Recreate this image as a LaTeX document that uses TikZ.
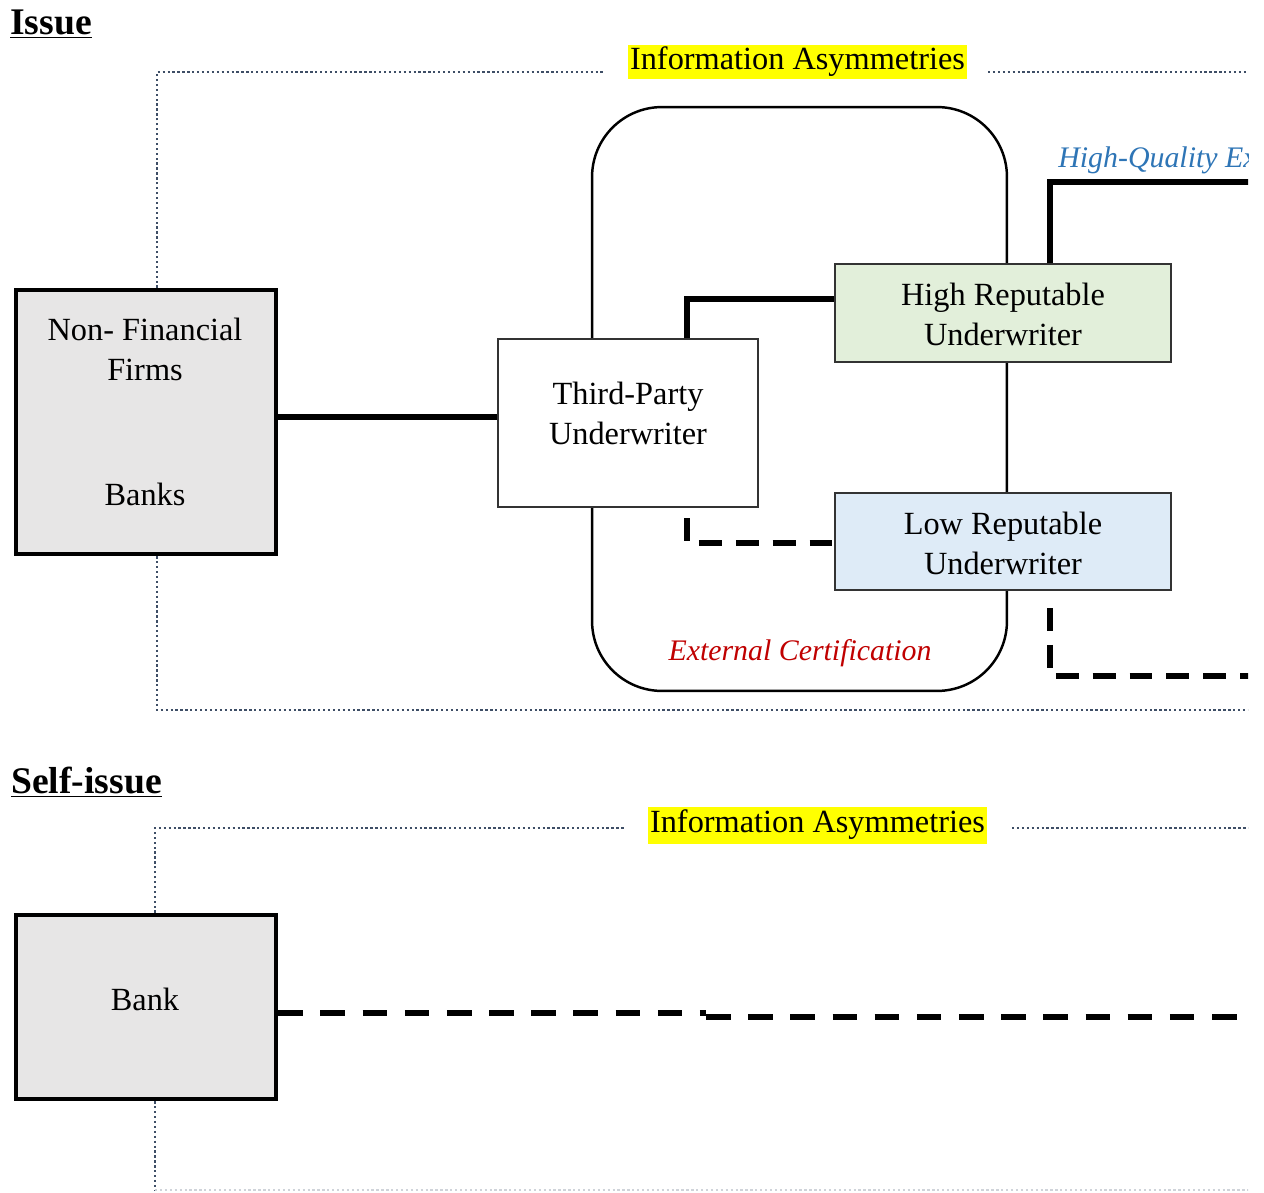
\documentclass[tikz,border=0pt]{standalone}
\usepackage{fontspec}
\setmainfont{Liberation Serif}
\definecolor{boxgrey}{HTML}{E7E6E6}
\definecolor{hgreen}{HTML}{E2EFDA}
\definecolor{lblue}{HTML}{DEEBF7}
\definecolor{hlyellow}{HTML}{FFFF00}
\definecolor{dotcol}{HTML}{3E4E66}
\definecolor{hqblue}{HTML}{2E75B6}
\definecolor{certred}{HTML}{C00000}
\begin{document}
\begin{tikzpicture}[x=0.02cm,y=-0.02cm,
  txt/.style={font=\fontsize{18.4pt}{22.8pt}\selectfont, align=center, inner sep=0pt},
  title/.style={font=\fontsize{21.4pt}{25pt}\selectfont\bfseries, anchor=west, inner sep=0pt},
  entity/.style={draw=black, line width=2.6pt, fill=boxgrey, rectangle, inner sep=0pt},
  plainbox/.style={draw=black!80, line width=0.8pt, rectangle, inner sep=0pt, txt},
  certbox/.style={draw=black, line width=1.4pt, rectangle, rounded corners=1.4cm, inner sep=0pt},
  hl/.style={fill=hlyellow, txt, inner xsep=1pt, minimum height=0.7cm},
  conn/.style={draw=black, line width=2.9pt},
  dconn/.style={draw=black, line width=2.9pt, dash pattern=on 13pt off 8pt},
  frame/.style={draw=dotcol, line width=1.4pt, dash pattern=on 1.3pt off 1.5pt},
  itl/.style={font=\fontsize{17pt}{20pt}\selectfont\itshape, inner sep=0pt}
]
\fill[white] (0,0) rectangle (1264,1193);
\useasboundingbox (0,0) rectangle (1264,1193);

% ---------------- Issue ----------------
\node[title] (issue) at (10,24) {\underline{Issue}};

\begin{scope}
\clip (0,0) rectangle (1248,1193);

\node[certbox, minimum width=8.3cm, minimum height=11.68cm] (cert) at (799.5,399) {};
\node[itl, text=certred] (certlbl) at (800,653) {External Certification};

\node[entity, minimum width=5.2cm, minimum height=5.28cm] (firms) at (146,422) {};
\node[txt] (firmstxt) at (145,349) {Non- Financial\\Firms};
\node[txt] (bankstxt) at (145,494) {Banks};

\node[plainbox, fill=white, minimum width=5.2cm, minimum height=3.36cm] (tp) at (628,423) {};
\node[txt] (tptxt) at (628,413) {Third-Party\\Underwriter};

\node[plainbox, fill=hgreen, minimum width=6.72cm, minimum height=1.96cm] (hru) at (1003,313) {};
\node[txt] (hrutxt) at (1003,314) {High Reputable\\Underwriter};

\node[plainbox, fill=lblue, minimum width=6.72cm, minimum height=1.94cm] (lru) at (1003,541.5) {};
\node[txt] (lrutxt) at (1003,543) {Low Reputable\\Underwriter};

\node[hl, minimum width=6.78cm] (ia1) at (797.5,62) {\raisebox{-2pt}{Information Asymmetries}};
\node[itl, text=hqblue, anchor=west] (hq) at (1058,160) {High-Quality Ex};

% frame
\coordinate (c1) at (157,72);
\coordinate (g1) at (605,72);
\coordinate (g2) at (988,72);
\coordinate (e1) at (1260,72);
\coordinate (c2) at (157,710);
\coordinate (e2) at (1260,710);
\draw[frame] (firms.north -| c1) -- (c1) -- (g1);
\draw[frame] (g2) -- (e1);
\draw[frame] (firms.south -| c2) -- (c2) -- (e2);

% connectors
\coordinate (j0) at (400,417);
\draw[conn] (firms.east |- j0) -- (tp.west |- j0);
\coordinate (j1) at (687,299);
\draw[conn] (tp.north -| j1) -- (j1) -- (hru.west |- j1);
\coordinate (j2s) at (687,518);
\coordinate (j2) at (687,543);
\draw[dconn] (j2s) -- (j2) -- (lru.west |- j2);
\coordinate (j3) at (1050,182);
\coordinate (e3) at (1260,182);
\draw[conn] (hru.north -| j3) -- (j3) -- (e3);
\coordinate (j4s) at (1050,608);
\coordinate (j4) at (1050,676);
\coordinate (e4) at (1260,676);
\draw[dconn] (j4s) -- (j4) -- (e4);

% ---------------- Self-issue ----------------
\node[entity, minimum width=5.2cm, minimum height=3.68cm] (bank) at (146,1007) {};
\node[txt] (banktxt) at (145,999) {Bank};

\node[hl, minimum width=6.78cm, minimum height=0.74cm] (ia2) at (817.5,825) {\raisebox{-2pt}{Information Asymmetries}};

\coordinate (c3) at (155,828);
\coordinate (g3) at (625,828);
\coordinate (g4) at (1012,828);
\coordinate (e5) at (1260,828);
\coordinate (c4) at (155,1190);
\coordinate (e6) at (1260,1190);
\draw[frame] (bank.north -| c3) -- (c3) -- (g3);
\draw[frame] (g4) -- (e5);
\draw[frame] (bank.south -| c4) -- (c4);
\draw[frame, draw=dotcol!25] (c4) -- (e6);

\coordinate (s1) at (706,1013);
\coordinate (s2) at (706,1017);
\coordinate (e7) at (1260,1017);
\draw[dconn, dash pattern=on 14pt off 10pt] (bank.east |- s1) -- (s1);
\draw[dconn, dash pattern=on 14pt off 10pt] (s2) -- (e7);
\end{scope}

\node[title] (selfissue) at (11,782) {\underline{Self-issue}};
\end{tikzpicture}
\end{document}
